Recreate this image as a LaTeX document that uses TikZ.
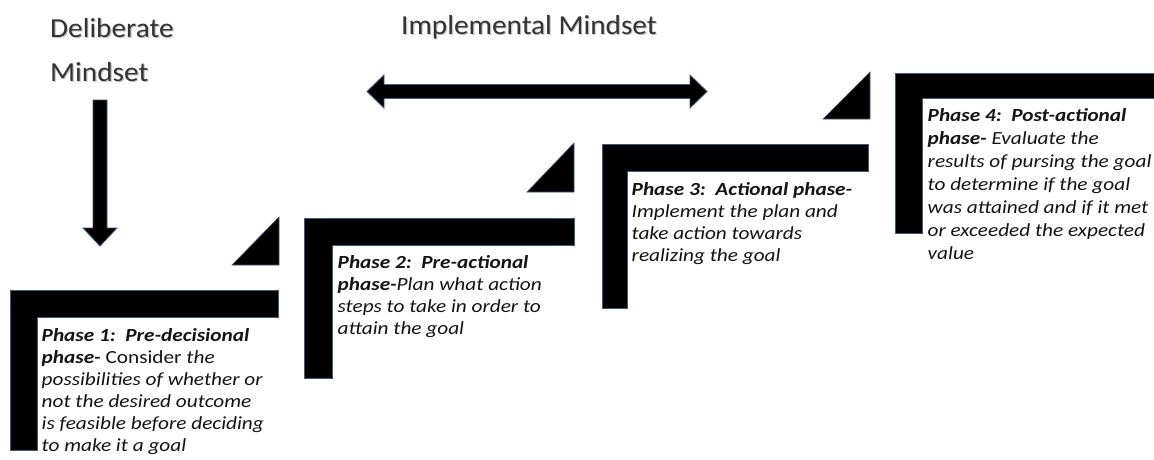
\documentclass[tikz,border=0pt]{standalone}
\usepackage{fontspec}
\setmainfont{Carlito}
\newfontfamily\phasefont[FakeStretch=1.15]{Carlito}
\newfontfamily\headfont[FakeStretch=1.065]{Carlito}
\usetikzlibrary{calc}
\definecolor{edgeblue}{RGB}{60,90,125}
\begin{document}
\begin{tikzpicture}[x=1pt,y=-1pt]
\tikzset{
  stepshape/.style={fill=black, draw=edgeblue, line width=0.6pt, line join=miter},
  arrowshape/.style={fill=black, draw=edgeblue, line width=0.9pt, line join=miter},
  phasetext/.style={anchor=north west, inner sep=0pt, align=left, text=black!92,
    font=\phasefont\fontsize{18.5}{22}\selectfont\itshape},
  headtext/.style={anchor=north west, inner sep=0pt, align=left, text=black!80,
    font=\headfont\fontsize{27.5}{44}\selectfont},
  headshadow/.style={headtext, text=black!22},
}
% page
\fill[white] (0,0) rectangle (1154,459);
\useasboundingbox (0,0) rectangle (1154,459);

% mindset headings (with a soft drop shadow)
\node[headshadow] (delibshadow) at (51.2,17.7) {\rule{0pt}{21pt}Deliberate\\Mindset};
\node[headtext] (delib) at (50,16.5) {\rule{0pt}{21pt}Deliberate\\Mindset};
\node[headshadow] (implemshadow) at (402.2,14.5) {\rule{0pt}{21pt}Implemental Mindset};
\node[headtext] (implem) at (401,13.3) {\rule{0pt}{21pt}Implemental Mindset};

% arrow ends
\coordinate (dmTop) at (100,100);
\coordinate (dmTip) at (100,246);
\coordinate (imL) at (367,91.5);
\coordinate (imR) at (707,91.5);

% deliberate mindset: block arrow pointing down
\draw[arrowshape] ($(dmTop)+(-7,0)$) -- ($(dmTop)+(7,0)$) -- ($(dmTip)+(7,-18)$)
  -- ++(10,0) -- (dmTip) -- ++(-17,-18) -- ++(10,0) -- cycle;

% implemental mindset: double-headed block arrow
\draw[arrowshape] (imL) -- ++(17,-16.5) -- ++(0,9.5) -- ($(imR)+(-17,-7)$)
  -- ++(0,-9.5) -- (imR) -- ++(-17,16.5) -- ++(0,-9.5) -- ($(imL)+(17,7)$)
  -- ++(0,9.5) -- cycle;

% staircase: L-shaped brackets
\draw[stepshape] (10,290) -- (278,290) -- (278,317) -- (37,317) -- (37,450) -- (10,450) -- cycle;
\draw[stepshape] (304,218) -- (574,218) -- (574,245) -- (332,245) -- (332,378) -- (304,378) -- cycle;
\draw[stepshape] (602,144) -- (868,144) -- (868,171) -- (627,171) -- (627,308) -- (602,308) -- cycle;
\draw[stepshape] (895,73) -- (1160,73) -- (1160,98) -- (922,98) -- (922,233) -- (895,233) -- cycle;

% riser wedges between the steps
\draw[stepshape] (232,265) -- (279,217) -- (279,265) -- cycle;
\draw[stepshape] (527,192) -- (574,143) -- (574,192) -- cycle;
\draw[stepshape] (823,119) -- (870,72) -- (870,119) -- cycle;

% phase descriptions
\node[phasetext] (p1text) at (41.5,327) {\rule{0pt}{14.5pt}\textbf{Phase 1:\ \ Pre-decisional}\\
  \textbf{phase-}{\upshape\ Consider} the\\
  possibilities of whether or\\
  not the desired outcome\\
  is feasible before deciding\\
  to make it a goal};

\node[phasetext] (p2text) at (337.5,254) {\rule{0pt}{14.5pt}\textbf{Phase 2:\ \ Pre-actional}\\
  \textbf{phase-}Plan what action\\
  steps to take in order to\\
  attain the goal};

\node[phasetext] (p3text) at (631.5,180.5) {\rule{0pt}{14.5pt}\textbf{Phase 3:\ \ Actional phase-}\\
  Implement the plan and\\
  take action towards\\
  realizing the goal};

\node[phasetext, font=\phasefont\fontsize{18.5}{23}\selectfont\itshape] (p4text) at (927.5,106.5)
  {\rule{0pt}{14.5pt}\textbf{Phase 4:\ \ Post-actional}\\
  \textbf{phase-} Evaluate the\\
  results of pursing the goal\\
  to determine if the goal\\
  was attained and if it met\\
  or exceeded the expected\\
  value};
\end{tikzpicture}
\end{document}
